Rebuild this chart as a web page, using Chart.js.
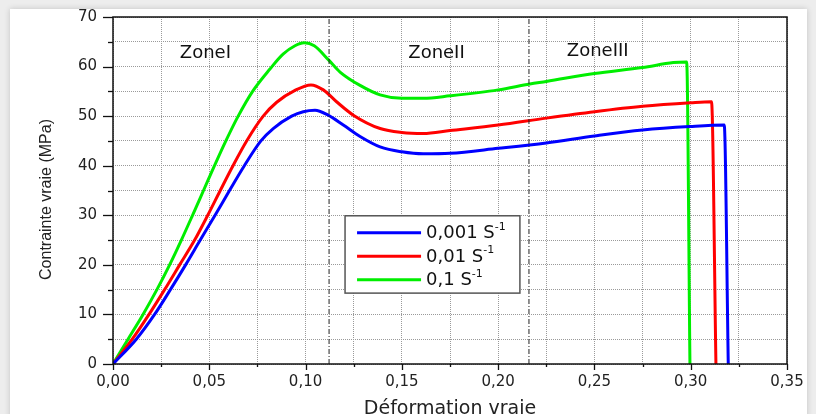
<!DOCTYPE html>
<html>
<head>
<meta charset="utf-8">
<script src="https://cdn.jsdelivr.net/npm/chart.js@4.4.0/dist/chart.umd.min.js"></script>
<style>
    html, body { margin: 0; padding: 0; background: #ededed; overflow: hidden; }
    #card { position: absolute; left: 10px; top: 9px; width: 797px; height: 430px; background: #fff; box-shadow: 0 0 6px rgba(0,0,0,0.18); }
    #wrap { position: absolute; left: 0; top: 0; width: 816px; height: 424px; }
</style>
</head>
<body>
<div id="card"></div>
<div id="wrap"><canvas id="chart" width="816" height="424"></canvas></div>
<script>
// true strain / true stress (MPa)
var strainBlue = [0, 0.0121, 0.0216, 0.0298, 0.0377, 0.0453, 0.053, 0.0605, 0.0682, 0.0768, 0.0832, 0.0928, 0.0988, 0.1049, 0.1117, 0.1196, 0.1283, 0.1387, 0.15, 0.1611, 0.175, 0.2, 0.225, 0.25, 0.275, 0.2996, 0.3174, 0.3195];
var stressBlue = [0, 5, 10, 15, 20, 25, 30, 35, 40, 45, 47.5, 50, 50.9, 51.2, 50.2, 48.2, 45.9, 43.8, 42.8, 42.4, 42.5, 43.5, 44.6, 46.0, 47.2, 47.9, 48.2, 0];

var strainRed = [0, 0.01, 0.0187, 0.0268, 0.0346, 0.0424, 0.0492, 0.0557, 0.0623, 0.0694, 0.078, 0.085, 0.0945, 0.1028, 0.1092, 0.1161, 0.1248, 0.1387, 0.15, 0.1611, 0.175, 0.2, 0.225, 0.25, 0.275, 0.30, 0.3108, 0.3131];
var stressRed = [0, 5, 10, 15, 20, 25, 30, 35, 40, 45, 50, 52.8, 55.2, 56.3, 55.3, 52.9, 50.2, 47.5, 46.7, 46.5, 47.1, 48.2, 49.6, 50.9, 52.0, 52.7, 52.9, 0];

var strainGreen = [0, 0.0078, 0.0156, 0.0228, 0.0294, 0.0355, 0.0413, 0.047, 0.0527, 0.0586, 0.065, 0.0725, 0.0815, 0.0883, 0.0945, 0.0993, 0.1045, 0.1118, 0.1179, 0.1283, 0.1387, 0.15, 0.1611, 0.175, 0.2, 0.2165, 0.225, 0.25, 0.275, 0.291, 0.2979, 0.2996];
var stressGreen = [0, 5, 10, 15, 20, 25, 30, 35, 40, 45, 50, 55, 59.5, 62.5, 64.2, 64.8, 64.2, 61.4, 58.9, 56.2, 54.3, 53.6, 53.6, 54.1, 55.3, 56.5, 57.0, 58.6, 59.8, 60.8, 60.9, 0];

var seriesLabels = ['0,001 S', '0,01 S', '0,1 S'];
var seriesColors = ['#0000ff', '#ff0000', '#00ee00'];

// zone boundaries and zone names
var zoneBounds = [0.1122, 0.216];
var zoneNames = ['ZoneI', 'ZoneII', 'ZoneIII'];
var zoneNameX = [0.048, 0.168, 0.2517];
var zoneNameY = [62.7, 62.7, 63];

// legend box corners in data units
var legendBox = {x0: 0.1205, x1: 0.2113, y0: 29.9, y1: 14.3};

function toPoints(xs, ys) {
    var pts = [];
    for (var i = 0; i < xs.length; i++) {
        pts.push({x: xs[i], y: ys[i]});
    }
    return pts;
}

var datasets = [
    {label: seriesLabels[0], data: toPoints(strainBlue, stressBlue), borderColor: seriesColors[0]},
    {label: seriesLabels[1], data: toPoints(strainRed, stressRed), borderColor: seriesColors[1]},
    {label: seriesLabels[2], data: toPoints(strainGreen, stressGreen), borderColor: seriesColors[2]}
];
datasets.forEach(function (d) {
    d.borderWidth = 3;
    d.pointRadius = 0;
    d.cubicInterpolationMode = 'monotone';
    d.fill = false;
});
zoneBounds.forEach(function (b) {
    datasets.unshift({
        label: 'zone',
        data: [{x: b, y: 0}, {x: b, y: 70}],
        borderColor: '#222',
        borderWidth: 1,
        borderDash: [5, 2, 1, 2],
        pointRadius: 0,
        fill: false
    });
});

var decorPlugin = {
    id: 'decor',
    afterDraw: function (chart) {
        var ctx = chart.ctx;
        var xs = chart.scales.x, ys = chart.scales.y;
        var a = chart.chartArea;
        ctx.save();
        ctx.setLineDash([]);
        // tick marks
        ctx.strokeStyle = '#111';
        ctx.lineWidth = 1.3;
        xs.ticks.forEach(function (t, i) {
            var px = Math.round(xs.getPixelForValue(t.value)) + 0.5;
            var len = i % 2 === 0 ? 6 : 3;
            ctx.beginPath();
            ctx.moveTo(px, a.bottom);
            ctx.lineTo(px, a.bottom + len);
            ctx.stroke();
        });
        ys.ticks.forEach(function (t, i) {
            var py = Math.round(ys.getPixelForValue(t.value)) + 0.5;
            var len = i % 2 === 0 ? 10 : 5;
            ctx.beginPath();
            ctx.moveTo(a.left, py);
            ctx.lineTo(a.left - len, py);
            ctx.stroke();
        });
        // frame
        ctx.lineWidth = 1.5;
        ctx.strokeRect(a.left, a.top, a.right - a.left, a.bottom - a.top);

        // y axis title, sits a bit below the middle
        ctx.save();
        ctx.translate(47, (a.top + a.bottom) / 2 + 9);
        ctx.rotate(-Math.PI / 2);
        ctx.fillStyle = '#222';
        ctx.font = '16px "Liberation Sans"';
        ctx.textAlign = 'center';
        ctx.textBaseline = 'middle';
        ctx.fillText('Contrainte vraie (MPa)', 0, 0);
        ctx.restore();

        // zone names
        ctx.fillStyle = '#111';
        ctx.font = '18px "DejaVu Sans"';
        ctx.textAlign = 'center';
        ctx.textBaseline = 'middle';
        zoneNames.forEach(function (n, i) {
            ctx.fillText(n, xs.getPixelForValue(zoneNameX[i]), ys.getPixelForValue(zoneNameY[i]));
        });

        // legend
        var bx0 = xs.getPixelForValue(legendBox.x0), bx1 = xs.getPixelForValue(legendBox.x1);
        var by0 = ys.getPixelForValue(legendBox.y0), by1 = ys.getPixelForValue(legendBox.y1);
        ctx.fillStyle = '#fff';
        ctx.fillRect(bx0, by0, bx1 - bx0, by1 - by0);
        ctx.strokeStyle = '#555';
        ctx.lineWidth = 1.5;
        ctx.strokeRect(bx0, by0, bx1 - bx0, by1 - by0);
        var rowH = 23.5;
        for (var i = 0; i < seriesLabels.length; i++) {
            var ry = by0 + 17 + i * rowH;
            ctx.strokeStyle = seriesColors[i];
            ctx.lineWidth = 3;
            ctx.beginPath();
            ctx.moveTo(bx0 + 12, ry);
            ctx.lineTo(bx0 + 76, ry);
            ctx.stroke();
            ctx.fillStyle = '#111';
            ctx.textAlign = 'left';
            ctx.textBaseline = 'middle';
            ctx.font = '18px "DejaVu Sans"';
            ctx.fillText(seriesLabels[i], bx0 + 81, ry + 1);
            var w = ctx.measureText(seriesLabels[i]).width;
            ctx.font = '11px "DejaVu Sans"';
            ctx.fillText('-1', bx0 + 81 + w, ry - 6);
        }
        ctx.restore();
    }
};

var ctx = document.getElementById('chart').getContext('2d');
var chart = new Chart(ctx, {
    type: 'line',
    data: {datasets: datasets},
    plugins: [decorPlugin],
    options: {
        responsive: false,
        animation: false,
        layout: {padding: {top: 17, right: 29, left: 0, bottom: 0}},
        plugins: {
            legend: {display: false},
            tooltip: {enabled: false}
        },
        scales: {
            x: {
                type: 'linear',
                min: 0,
                max: 0.35,
                ticks: {
                    stepSize: 0.025,
                    autoSkip: false,
                    maxRotation: 0,
                    padding: 9,
                    color: '#222',
                    font: {family: 'DejaVu Sans', size: 15},
                    callback: function (v, i) {
                        return i % 2 === 0 ? v.toFixed(2).replace('.', ',') : '';
                    }
                },
                grid: {color: '#9a9a9a', lineWidth: 1, drawTicks: false},
                border: {display: false, dash: [1, 1]},
                title: {
                    display: true,
                    text: 'Déformation vraie',
                    color: '#222',
                    font: {family: 'DejaVu Sans', size: 19, lineHeight: 1},
                    padding: {top: 0, bottom: 5}
                },
                afterFit: function (s) {
                    s.height = 60;
                    s.paddingLeft = 0;
                    s.paddingRight = 0;
                }
            },
            y: {
                type: 'linear',
                min: 0,
                max: 70,
                ticks: {
                    stepSize: 5,
                    autoSkip: false,
                    padding: 16,
                    color: '#222',
                    font: {family: 'DejaVu Sans', size: 15},
                    callback: function (v, i) {
                        return i % 2 === 0 ? String(v) : '';
                    }
                },
                grid: {color: '#9a9a9a', lineWidth: 1, drawTicks: false},
                border: {display: false, dash: [1, 1]},
                afterFit: function (s) {
                    s.width = 113;
                    s.paddingTop = 0;
                    s.paddingBottom = 0;
                }
            }
        }
    }
});
</script>
</body>
</html>
